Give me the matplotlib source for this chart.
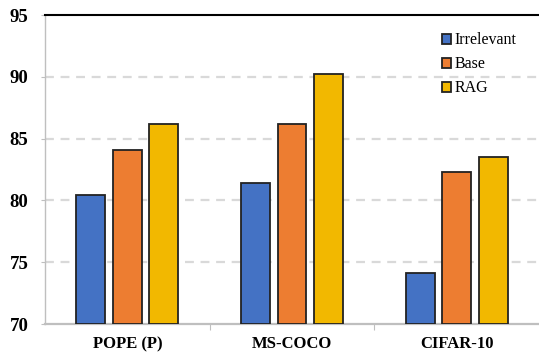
import matplotlib
matplotlib.use("Agg")
import matplotlib.pyplot as plt
import numpy as np

categories = ["POPE (P)", "MS-COCO", "CIFAR-10"]
series_names = ["Irrelevant", "Base", "RAG"]
irrelevant = [80.4, 81.4, 74.1]
base = [84.1, 86.2, 82.3]
rag = [86.2, 90.2, 83.5]
colors = ["#4472C4", "#ED7D31", "#F2B800"]
yticks = [70, 75, 80, 85, 90, 95]

plt.rcParams['font.family'] = ['Liberation Serif', 'DejaVu Serif']

fig = plt.figure(figsize=(5.39, 3.56), dpi=100)
ax = fig.add_axes([45/539, 32/356, 494/539, 309/356])

x = np.arange(len(categories))
width = 0.176
step = 0.221
for i, (vals, name, c) in enumerate(zip([irrelevant, base, rag], series_names, colors)):
    ax.bar(x + (i - 1) * step, np.array(vals) - 70, bottom=70, width=width, color=c,
           edgecolor="#222222", linewidth=1.3, label=name, zorder=3)

ax.set_xlim(-0.5, 2.5)
ax.set_ylim(70, 95)
ax.set_yticks(yticks)
ax.set_yticklabels([str(t) for t in yticks], fontsize=13.5, fontweight='bold')
ax.set_xticks(x)
ax.set_xticklabels(categories, fontsize=12, fontweight='bold')
ax.tick_params(axis='x', length=0, pad=9)
ax.set_xticks([0.5, 1.5], minor=True)
ax.tick_params(axis='x', which='minor', length=4, color='#bfbfbf', width=0.8)
ax.tick_params(axis='y', length=3, color='#bfbfbf', width=0.8, pad=9)

for y in [75, 80, 85, 90]:
    ax.axhline(y, color='#d9d9d9', linestyle=(0, (4, 3)), linewidth=1.6, zorder=1)

ax.spines['top'].set_color('black')
ax.spines['top'].set_linewidth(1.5)
ax.spines['right'].set_visible(False)
ax.spines['left'].set_color('#bfbfbf')
ax.spines['left'].set_linewidth(1.0)
ax.spines['bottom'].set_color('#bfbfbf')
ax.spines['bottom'].set_linewidth(1.6)

leg = ax.legend(loc='upper right', bbox_to_anchor=(0.984, 0.99), frameon=False, fontsize=11.5,
                handlelength=0.55, handleheight=0.55, handletextpad=0.25, labelspacing=0.5)

fig.savefig("out.png", dpi=100)
